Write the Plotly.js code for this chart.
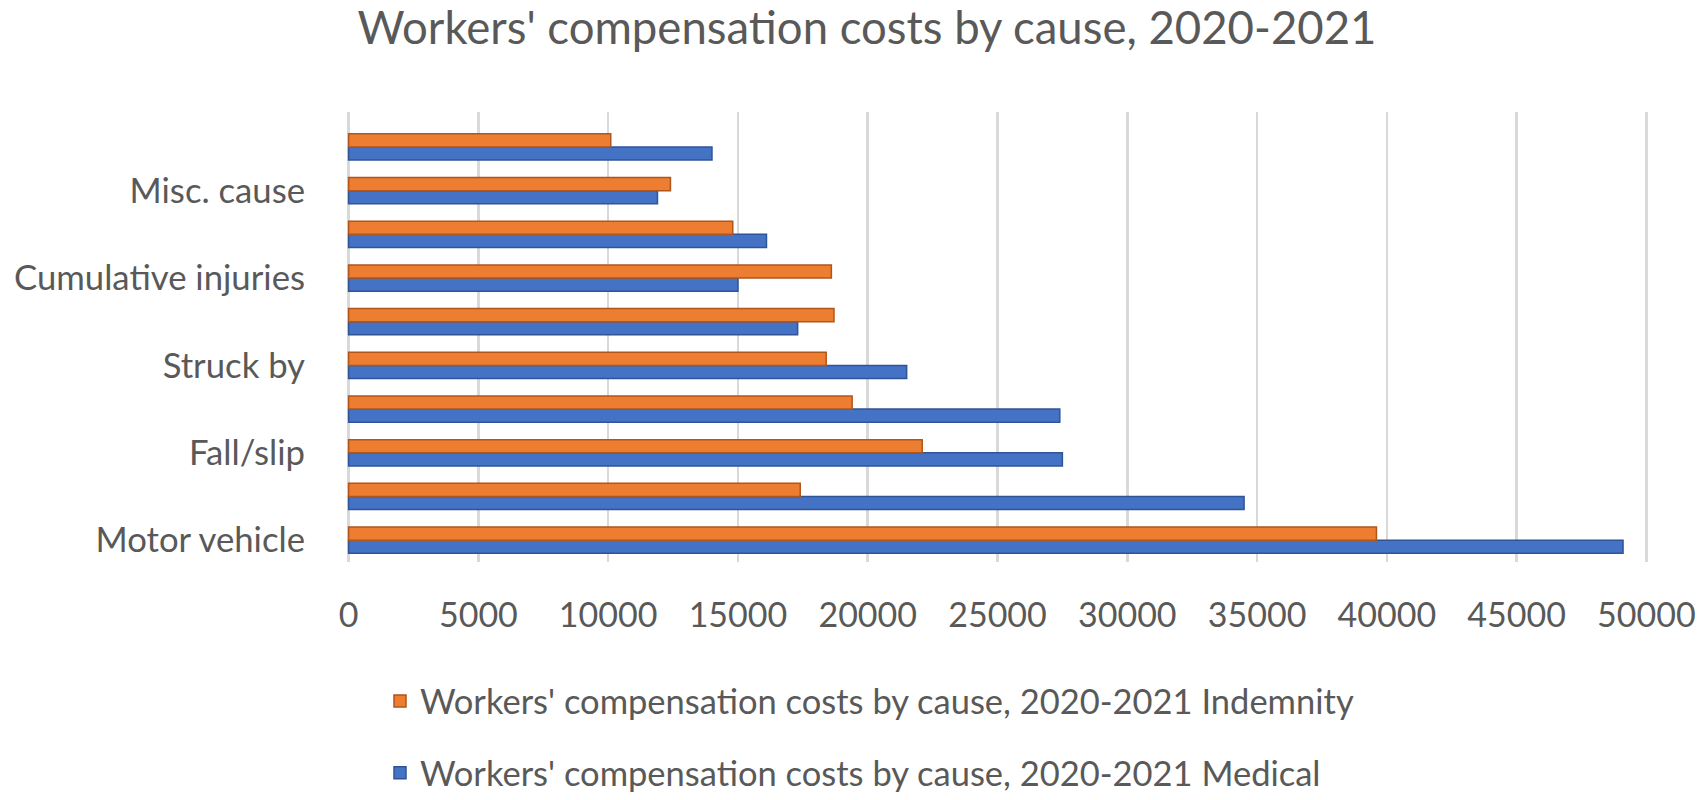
<!DOCTYPE html>
<html>
<head>
<meta charset="utf-8">
<script src="https://cdn.plot.ly/plotly-3.0.1.min.js"></script>
<style>html,body{margin:0;padding:0;background:#fff;}#chart{width:1700px;height:800px;}</style>
</head>
<body>
<div id="chart"></div>
<script>
// Categories from bottom to top
const categories = ["Motor vehicle", "Burn", "Fall/slip", "Caught in", "Struck by", "Strain", "Cumulative injuries", "Hand tool/machinery", "Misc. cause", "Cut/puncture"];
const indemnity = [39600, 17400, 22100, 19400, 18400, 18700, 18600, 14800, 12400, 10100];
const medical   = [49100, 34500, 27500, 27400, 21500, 17300, 15000, 16100, 11900, 14000];
const shownLabels = ["Motor vehicle", "Fall/slip", "Struck by", "Cumulative injuries", "Misc. cause"];
const xTicks = [0, 5000, 10000, 15000, 20000, 25000, 30000, 35000, 40000, 45000, 50000];
const seriesNames = ["Workers' compensation costs by cause, 2020-2021 Medical", "Workers' compensation costs by cause, 2020-2021 Indemnity"];
const chartTitle = "Workers' compensation costs by cause, 2020-2021";

const FONT = "Lato, 'Open Sans', sans-serif";
const TXT = "#595959";

const data = [
  {type: "bar", orientation: "h", name: seriesNames[0], y: categories, x: medical, legendgroup: "m", legendrank: 2,
   marker: {color: "#4472C4", line: {color: "#2F5597", width: 1.5}}},
  {type: "bar", orientation: "h", name: seriesNames[1], y: categories, x: indemnity, legendgroup: "i", legendrank: 1,
   marker: {color: "#ED7D31", line: {color: "#B0561C", width: 1.5}}}
];

const layout = {
  width: 1700, height: 800,
  paper_bgcolor: "#fff", plot_bgcolor: "#fff",
  margin: {l: 346, r: 51, t: 112, b: 238, autoexpand: false},
  font: {family: FONT, color: TXT, size: 34},
  title: {text: chartTitle, x: 0.51, xref: "container", xanchor: "center", y: 1 - 28/800, yref: "container", yanchor: "middle",
          font: {family: FONT, size: 45.5, color: TXT}},
  barmode: "group", bargap: 0.4, bargroupgap: 0,
  showlegend: true,
  legend: {traceorder: "grouped", tracegroupgap: 24, orientation: "v",
           xref: "container", yref: "container", x: 380/1700, y: 1 - 672/800, xanchor: "left", yanchor: "top",
           font: {family: FONT, size: 34.5, color: TXT}, bgcolor: "rgba(0,0,0,0)"},
  xaxis: {range: [-100, 50100], tickvals: xTicks, ticktext: xTicks.map(String), showgrid: true, gridcolor: "#D9D9D9", gridwidth: 2.5,
          zeroline: false, showline: false, ticks: "", ticklabelstandoff: 30, tickangle: 0, automargin: false,
          tickfont: {family: FONT, size: 34, color: TXT}},
  yaxis: {type: "category", categoryorder: "array", categoryarray: categories, range: [-0.5, 9.8], automargin: false,
          tickmode: "array", tickvals: shownLabels, ticktext: shownLabels, showgrid: false, zeroline: false, showline: false,
          ticks: "", ticklabelstandoff: 40, tickfont: {family: FONT, size: 34.7, color: TXT}}
};

Plotly.newPlot("chart", data, layout, {displayModeBar: false, staticPlot: true});
</script>
</body>
</html>
